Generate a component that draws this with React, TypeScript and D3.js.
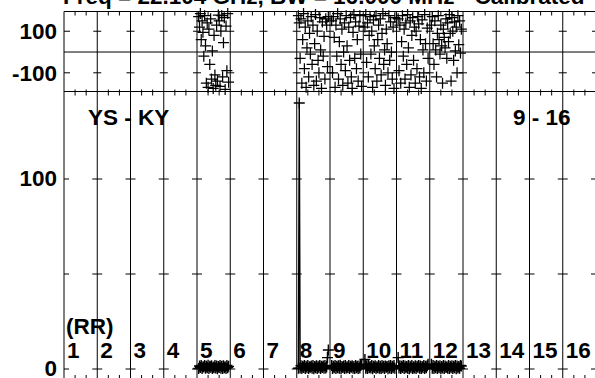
import React from "react";
import * as d3 from "d3";

// Channels that carry data
const channels = [5, 8, 9, 10, 11, 12];

// Phase (deg) per sample, top panel
const phaseCh5 = [170, 120, 185, 60, 150, 95, -20, 175, 30, -150, 140, -170, 110, -60, 160, -130, 5, -175, 80, -110, -160, 130, -140, 178, 150, -165, 100, 175, -120, 45, 165, -180, 125, -90, 185, -145];
const phaseCh8 = [175, 140, -30, 160, -150, 60, 185, -80, 120, -170, 20, 150, -120, 90, -10, 170, -60, 130, -160, 40, 180, -140, 100, -40, -100, 165, 10, -175, 145, -20, 75, -130, 160, 130, -70, 170];
const phaseCh9 = [150, -100, 170, 70, -170, 130, -20, 185, -130, 50, 160, -60, 110, -160, 0, 140, -90, 175, 30, -150, 120, -40, 165, -120, -175, 95, 180, -30, 145, -80, 60, -140, 125, 175, -10, -165];
const phaseCh10 = [120, 180, -50, 140, -120, 80, 170, -10, 100, -170, 155, 30, -80, 175, -140, 60, 130, -30, 160, -110, 90, 185, -60, 10, -160, 110, 40, -100, 175, -40, 145, 0, -130, 120, -175, 165];
const phaseCh11 = [160, -90, 130, -150, 50, 175, -20, 110, -130, 140, -60, 180, 20, -170, 150, -110, 80, 165, -40, 120, -150, 100, -80, 170, 135, -120, 60, -175, 155, 10, -100, 180, 40, -140, 115, -30];
const phaseCh12 = [130, 170, 40, -60, 150, 10, -120, 90, 175, 60, -10, 130, 30, -150, 110, 70, 20, 160, -30, 140, 50, 180, 90, -140, 165, 100, -40, 145, 5, 120, -100, 175, 35, 150, -5, 110];

// Amplitude per sample, bottom panel
const ampCh5 = [0.3, 1.6, 0.8, 1.9, 0.2, 1.2, 1.0, 1.8, 0.4, 1.5, 0.6, 2.0, 0.2, 1.4, 0.9, 1.7, 0.3, 1.1, 0.7, 1.9, 0.5, 1.6, 0.1, 1.3, 0.8, 1.8, 0.4, 1.5, 0.2, 1.7, 0.6, 1.2, 0.3, 1.9, 0.7, 1.4];
const ampCh8 = [0.4, 140, 0.5, 1.7, 0.3, 1.4, 0.8, 1.9, 0.2, 1.5, 0.6, 1.8, 0.3, 1.2, 0.9, 1.6, 0.4, 1.9, 0.1, 1.3, 0.7, 1.7, 0.3, 1.5, 0.6, 1.8, 0.2, 1.4, 0.8, 1.6, 0.4, 1.9, 0.5, 1.2, 6, 10];
const ampCh9 = [1.8, 0.3, 1.5, 0.7, 1.9, 0.2, 1.4, 0.6, 1.7, 0.4, 2.0, 0.1, 1.3, 0.8, 1.6, 0.3, 1.9, 0.5, 1.2, 0.6, 1.8, 0.2, 1.5, 0.9, 1.7, 0.4, 1.3, 0.3, 1.9, 0.7, 1.4, 0.2, 1.6, 0.5, 1.8, 2.5];
const ampCh10 = [5, 0.4, 1.6, 0.2, 1.9, 0.7, 1.3, 0.5, 1.8, 0.1, 1.5, 0.8, 1.7, 0.3, 1.2, 0.6, 1.9, 0.4, 1.4, 0.2, 1.8, 0.7, 1.5, 0.3, 1.6, 0.9, 1.3, 0.1, 1.7, 0.5, 1.9, 0.3, 1.4, 0.6, 1.8, 0.4];
const ampCh11 = [6, 0.5, 1.7, 0.3, 1.4, 0.8, 1.9, 0.2, 1.6, 0.6, 1.3, 0.4, 1.8, 0.1, 1.5, 0.7, 1.9, 0.3, 1.2, 0.5, 1.7, 0.2, 1.4, 0.9, 1.8, 0.4, 1.6, 0.3, 1.3, 0.6, 1.9, 0.2, 1.5, 0.7, 1.7, 2.5];
const ampCh12 = [2.5, 0.4, 1.8, 0.2, 1.5, 0.7, 1.9, 0.3, 1.4, 0.6, 1.7, 0.1, 1.3, 0.5, 1.8, 0.3, 1.6, 0.8, 1.2, 0.4, 1.9, 0.2, 1.5, 0.6, 1.7, 0.3, 1.4, 0.7, 1.8, 0.1, 1.6, 0.5, 1.3, 0.4, 1.9, 1.6];

const phases = [phaseCh5, phaseCh8, phaseCh9, phaseCh10, phaseCh11, phaseCh12];
const amps = [ampCh5, ampCh8, ampCh9, ampCh10, ampCh11, ampCh12];

const channelLabels = ["1", "2", "3", "4", "5", "6", "7", "8", "9", "10", "11", "12", "13", "14", "15", "16"];
const phaseTicks = [100, -100];
const phaseTickLabels = ["100", "-100"];
const ampTicks = [0, 50, 100];
const ampTickLabels = ["0", "", "100"];

const title = "Freq = 22.104 GHz, BW = 16.000 MHz - Calibrated";
const baselineLabel = "YS - KY";
const rangeLabel = "9 - 16";
const unitLabel = "(RR)";

const FONT = "'Liberation Sans', Arial, Helvetica, sans-serif";

export default function App() {
  const W = 595;
  const H = 378;
  const x = d3.scaleLinear().domain([1, 17]).range([64, 596]);
  const yP = d3.scaleLinear().domain([-190, 195]).range([91.5, 11.5]);
  const yA = d3.scaleLinear().domain([0, 100]).range([369, 179]);
  const topY = yP(195);
  const sepY = yP(-190);
  const botY = 380;
  const grid = d3.range(1, 18);
  const minor = grid.flatMap((c) => [c + 1 / 3, c + 2 / 3]);
  const sx = (c: number, i: number, n: number) => c + 0.05 + (i * 0.9) / (n - 1);
  const cross = (px: number, py: number, r = 5.5) =>
    `M${px - r},${py}h${2 * r}M${px},${py - r}v${2 * r}`;
  const line = d3.line<[number, number]>().x((d) => d[0]).y((d) => d[1]);

  const topPts: [number, number][] = [];
  const botGroups: [number, number][][] = [];
  channels.forEach((c, k) => {
    const ph = phases[k];
    ph.forEach((v, i) => topPts.push([x(sx(c, i, ph.length)), yP(v)]));
    const am = amps[k];
    botGroups.push(am.map((v, i) => [x(sx(c, i, am.length)), yA(v)] as [number, number]));
  });

  const textStyle = { fontFamily: FONT, fontWeight: 700, fontSize: 22.5, fill: "#000" } as const;

  return (
    <svg
      width={W}
      height={H}
      style={{ position: "absolute", left: 0, top: 0, display: "block", background: "#fff" }}
    >
      <rect x={0} y={0} width={W} height={H} fill="#fff" />
      {/* title (mostly cut off at the top) */}
      <text x={63} y={3.5} {...textStyle}>{title}</text>

      {/* horizontal frame lines */}
      <g stroke="#000" strokeWidth={1}>
        <line x1={x(1)} x2={W} y1={topY} y2={topY} />
        <line x1={x(1)} x2={W} y1={sepY} y2={sepY} />
        <line x1={x(1)} x2={W} y1={yP(0)} y2={yP(0)} />
        <line x1={x(1)} x2={W} y1={botY} y2={botY} />
      </g>

      {/* vertical grid lines at every channel */}
      <g stroke="#000" strokeWidth={1}>
        {grid.map((c) => (
          <line key={c} x1={x(c)} x2={x(c)} y1={topY} y2={botY} />
        ))}
      </g>

      {/* minor ticks */}
      <g stroke="#000" strokeWidth={1}>
        {minor.map((c, i) => (
          <g key={i}>
            <line x1={x(c)} x2={x(c)} y1={topY} y2={topY + 4} />
            <line x1={x(c)} x2={x(c)} y1={sepY - 2} y2={sepY + 4} />
            <line x1={x(c)} x2={x(c)} y1={botY - 5} y2={botY} />
          </g>
        ))}
      </g>

      {/* major tick crosses on grid lines */}
      <g stroke="#000" strokeWidth={1}>
        {phaseTicks.map((t) =>
          grid.map((c) => (
            <line
              key={`p${t}-${c}`}
              x1={c === 1 ? x(c) : x(c) - 4}
              x2={x(c) + (c === 1 ? 6 : 4)}
              y1={yP(t)}
              y2={yP(t)}
            />
          ))
        )}
        {ampTicks.map((t) =>
          grid.map((c) => (
            <line
              key={`a${t}-${c}`}
              x1={c === 1 ? x(c) : x(c) - 5}
              x2={x(c) + 5}
              y1={yA(t)}
              y2={yA(t)}
            />
          ))
        )}
      </g>

      {/* y tick labels */}
      {phaseTicks.map((t, i) => (
        <text key={`pl${t}`} x={57} y={yP(t) + 8} textAnchor="end" {...textStyle}>
          {phaseTickLabels[i]}
        </text>
      ))}
      {ampTicks.map((t, i) => (
        <text key={`al${t}`} x={57} y={yA(t) + 7} textAnchor="end" {...textStyle}>
          {ampTickLabels[i]}
        </text>
      ))}

      {/* top panel: phase scatter */}
      <path
        d={topPts.map(([px, py]) => cross(px, py)).join("")}
        stroke="#000"
        strokeWidth={1.25}
        fill="none"
      />

      {/* bottom panel: amplitude lines + markers */}
      <g stroke="#000" strokeWidth={1.4} fill="none">
        {botGroups.map((g, i) => (
          <path key={`l${i}`} d={line(g) || ""} />
        ))}
        {botGroups.map((g, i) => (
          <path key={`m${i}`} d={g.map(([px, py]) => cross(px, py)).join("")} />
        ))}
      </g>

      {/* labels */}
      <text x={88} y={125} {...textStyle}>{baselineLabel}</text>
      <text x={513} y={125} {...textStyle}>{rangeLabel}</text>
      <text x={66} y={334} {...textStyle}>{unitLabel}</text>
      {channelLabels.map((l, i) => (
        <text key={l} x={x(i + 1) + 3} y={358} {...textStyle}>{l}</text>
      ))}
    </svg>
  );
}
